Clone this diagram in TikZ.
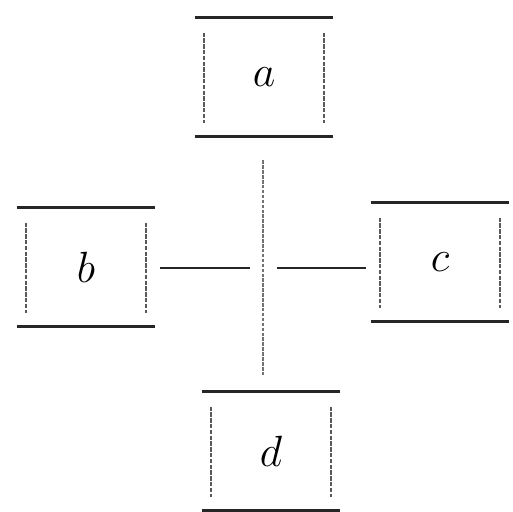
\documentclass[tikz,border=0pt]{standalone}
\begin{document}
\begin{tikzpicture}[x=0.2mm,y=-0.2mm,
  box/.style={minimum width=27.6mm,minimum height=23.6mm,inner sep=0pt,
    font=\Huge\itshape},
  rule/.style={line width=1.6pt,black!85},
  side/.style={line width=0.9pt,black!65,dash pattern=on 2.5pt off 0.8pt},
  link/.style={line width=1.2pt,black!85},
  axis/.style={line width=0.7pt,black!55,dash pattern=on 2pt off 0.8pt}]
\useasboundingbox (0,0) rectangle (513,512);
\node[box] (a) at (264,77) {$a$};
\node[box] (b) at (86,267) {$b$};
\node[box] (c) at (440,262) {$c$};
\node[box] (d) at (271,451) {$d$};
% top and bottom rules, inset sides
\foreach \n in {a,b,c,d}{
  \draw[rule] (\n.north west) -- (\n.north east);
  \draw[rule] (\n.south west) -- (\n.south east);
  \draw[side] ([shift={(1.9mm,-3mm)}]\n.north west) -- ([shift={(1.9mm,2.6mm)}]\n.south west);
  \draw[side] ([shift={(-1.9mm,-3mm)}]\n.north east) -- ([shift={(-1.9mm,2.6mm)}]\n.south east);
}
\coordinate (hub) at (263,268);
\draw[link,shorten <=1mm] (b.east |- hub) -- ([xshift=-2.6mm]hub);
\draw[link,shorten >=1mm] ([xshift=2.8mm]hub) -- (c.west |- hub);
\draw[axis,shorten <=4.8mm,shorten >=3mm] (hub |- a.south) -- (hub |- d.north);
\end{tikzpicture}
\end{document}
